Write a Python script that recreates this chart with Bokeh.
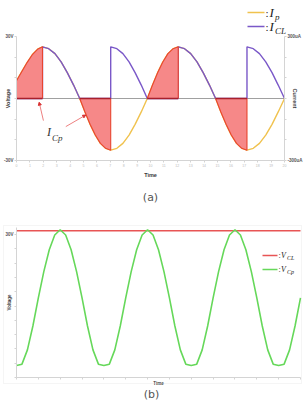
from bokeh.plotting import figure
from bokeh.models import (Range1d, LinearAxis, FixedTicker, Label, Arrow, NormalHead,
                          Span, BoxAnnotation)
from bokeh.layouts import column
from bokeh.embed import file_html
from bokeh.resources import INLINE

# ---------------- panel (a) data ----------------
ip_t = [0.00, 0.40, 0.80, 1.20, 1.60, 1.94,
        2.40, 2.87, 3.33, 3.79, 4.26, 4.72,
        5.11, 5.49, 5.88, 6.26, 6.65, 7.03,
        7.49, 7.94, 8.40, 8.85, 9.31, 9.76,
        10.15, 10.53, 10.92, 11.30, 11.69, 12.07,
        12.54, 13.00, 13.47, 13.93, 14.40, 14.86,
        15.25, 15.64, 16.03, 16.42, 16.81, 17.20,
        17.67, 18.13, 18.60, 19.07, 19.53, 20.00]
ip_v = [86, 131, 175, 214, 240, 250,
        241, 217, 177, 125, 65, 0,
        -65, -125, -177, -217, -241, -250,
        -241, -217, -177, -125, -65, 0,
        65, 125, 177, 217, 241, 250,
        241, 217, 177, 125, 65, 0,
        -65, -125, -177, -217, -241, -250,
        -241, -217, -177, -125, -65, 0]
# windows where the Cp current flows (|Ip| rising)
icp_windows = [(0.00, 1.94), (4.72, 7.03), (9.76, 12.07), (14.86, 17.20)]
time_ticks_a = list(range(0, 21))
volt_labeled_a = [-30, 30]
volt_minor_a = [-20, -10, 0, 10, 20]
cur_labeled_a = [-300, 300]
cur_minor_a = [-200, -100, 0, 100, 200]

# ---------------- panel (b) data ----------------
vcp_t = [0.00, 0.25, 0.50, 0.75, 1.00, 1.25, 1.50, 1.75, 2.00, 2.25, 2.50, 2.75, 3.00, 3.25, 3.50, 3.75,
         4.00, 4.25, 4.50, 4.75, 5.00, 5.25, 5.50, 5.75, 6.00, 6.25, 6.50, 6.75, 7.00, 7.25, 7.50, 7.75,
         8.00, 8.25, 8.50, 8.75, 9.00, 9.25, 9.50, 9.75, 10.00, 10.25, 10.50, 10.75, 11.00, 11.25, 11.50, 11.75,
         12.00, 12.25, 12.50, 12.75, 13.00]
vcp_v = [2.5, 2.8, 5.8, 10.8, 16.7, 22.2, 26.8, 29.9, 31.0, 29.9, 26.8, 22.2, 16.7, 10.8, 5.8, 2.8,
         2.5, 2.8, 5.8, 10.8, 16.7, 22.2, 26.8, 29.9, 31.0, 29.9, 26.8, 22.2, 16.7, 10.8, 5.8, 2.8,
         2.5, 2.8, 5.8, 10.8, 16.7, 22.2, 26.8, 29.9, 31.0, 29.9, 26.8, 22.2, 16.7, 10.8, 5.8, 2.8,
         2.5, 2.8, 5.8, 10.8, 16.7]
vcl_t = [0.0, 13.0]
vcl_v = [30.8, 30.8]
time_minor_b = list(range(0, 14))
volt_labeled_b = [30]
volt_minor_b = [0, 3, 6, 9, 12, 15, 18, 21, 24, 27]

YEL = "#f0c24e"
PUR = "#7a58c8"
RED_FILL = "#f58282"
RED_EDGE = "#e8452f"
RED_ZERO = "#a8202c"
VCL_C = "#e85555"
VCP_C = "#66d85a"
AX = "#d4d4d4"
TXT = "#3a3a3a"
SANS = "Liberation Sans"
SERIF = "Liberation Serif"


def style_axis(ax, label_size="5.5px", tick_size="4.5px"):
    ax.axis_line_color = AX
    ax.major_tick_line_color = AX
    ax.minor_tick_line_color = AX
    ax.major_tick_in = 0
    ax.major_tick_out = 2
    ax.minor_tick_in = 0
    ax.minor_tick_out = 2
    ax.axis_label_text_font = SANS
    ax.axis_label_text_font_style = "bold"
    ax.axis_label_text_font_size = label_size
    ax.axis_label_text_color = TXT
    ax.major_label_text_font = SANS
    ax.major_label_text_font_style = "bold"
    ax.major_label_text_font_size = tick_size
    ax.major_label_text_color = "#555555"
    ax.major_label_standoff = 1


def sl(p, H, X, Y, text, size, style="italic", font=SERIF, align="left", color="#222222"):
    p.add_layout(Label(x=X, y=H - Y, x_units="screen", y_units="screen", text=text,
                       text_font=font, text_font_style=style, text_font_size=size,
                       text_color=color, text_align=align, text_baseline="middle"))


def sline(p, H, X0, X1, Y, color):
    p.add_layout(Arrow(x_start=X0, y_start=H - Y, x_end=X1, y_end=H - Y,
                       start_units="screen", end_units="screen", end=None,
                       line_color=color, line_width=1.6))


# ================= figure (a): frame covers the whole canvas =================
HA = 222
pa = figure(width=303, height=HA, output_backend="svg", toolbar_location=None,
            x_range=Range1d(-16 / 13.4, 20 + 19 / 13.4),
            y_range=Range1d(-30 - 62 / 2.0667, 30 + 36 / 2.0667),
            min_border=0, frame_align=False)
pa.extra_y_ranges = {"cur": Range1d(-300 - 620 / 2.0667, 300 + 360 / 2.0667)}
pa.outline_line_color = None
pa.xgrid.grid_line_color = None
pa.ygrid.grid_line_color = None

xa = pa.xaxis[0]
xa.fixed_location = -30
xa.bounds = (0, 20)
xa.ticker = FixedTicker(ticks=time_ticks_a)
xa.axis_label = "Time"
style_axis(xa)
xa.major_label_text_font_size = "3.5px"
xa.major_label_text_font_style = "normal"
xa.major_label_text_color = "#bbbbbb"
xa.axis_label_standoff = 2

ya = pa.yaxis[0]
ya.fixed_location = 0
ya.bounds = (-30, 30)
ya.ticker = FixedTicker(ticks=volt_labeled_a, minor_ticks=volt_minor_a)
ya.major_label_overrides = {30: "30V", -30: "-30V"}
ya.axis_label = "Voltage"
style_axis(ya)
ya.axis_label_standoff = -10

rax = LinearAxis(y_range_name="cur", fixed_location=20, bounds=(-300, 300),
                 ticker=FixedTicker(ticks=cur_labeled_a, minor_ticks=cur_minor_a),
                 major_label_overrides={300: "300uA", -300: "-300uA"},
                 axis_label="Current")
style_axis(rax)
rax.axis_label_standoff = -14
pa.add_layout(rax, "right")

pa.segment(x0=[0], y0=[0], x1=[20], y1=[0], line_color="#a0a0a0", line_width=1.2)

pa.line(ip_t, ip_v, y_range_name="cur", line_color=YEL, line_width=1.4)

cl_t, cl_v = [], []
for k, (a, b) in enumerate(icp_windows):
    cl_t += [a, b]
    cl_v += [0, 0]
    nxt = icp_windows[k + 1][0] if k + 1 < len(icp_windows) else ip_t[-1]
    for t, v in zip(ip_t, ip_v):
        if b <= t <= nxt:
            cl_t.append(t)
            cl_v.append(abs(v))
pa.line(cl_t, cl_v, y_range_name="cur", line_color=PUR, line_width=1.4)

pxs, pys, exs, eys = [], [], [], []
for a, b in icp_windows:
    pts = [(t, v) for t, v in zip(ip_t, ip_v) if a <= t <= b]
    pxs.append([a] + [p[0] for p in pts] + [b])
    pys.append([0] + [p[1] for p in pts] + [0])
    exs.append([p[0] for p in pts] + [b])
    eys.append([p[1] for p in pts] + [0])
pa.patches(pxs, pys, y_range_name="cur", fill_color=RED_FILL, fill_alpha=0.95, line_color=None)
pa.multi_line(exs, eys, y_range_name="cur", line_color=RED_EDGE, line_width=1.1)
pa.segment(x0=[w[0] for w in icp_windows], y0=[0] * 4, x1=[w[1] for w in icp_windows], y1=[0] * 4,
           y_range_name="cur", line_color=RED_ZERO, line_width=1.5)

# I_Cp annotation
for (xs, ys, xe, ye) in [(2.01, -107, 1.69, -18), (3.68, -136, 5.17, -80)]:
    pa.add_layout(Arrow(x_start=xs, y_start=ys, x_end=xe, y_end=ye, y_range_name="cur",
                        line_color="#e86060", line_width=0.8,
                        end=NormalHead(size=3, fill_color="#d83030", line_color="#d83030")))
sl(pa, HA, 46.5, 131, "I", "12px", color="#333333")
sl(pa, HA, 51.5, 137, "Cp", "9px", color="#333333")

# legend (a)
sline(pa, HA, 247, 264, 12, YEL)
sline(pa, HA, 247, 264, 26, PUR)
sl(pa, HA, 265, 12, ":", "11px", style="normal")
sl(pa, HA, 269, 12, "I", "13px")
sl(pa, HA, 274.5, 16, "p", "9px")
sl(pa, HA, 265, 26, ":", "11px", style="normal")
sl(pa, HA, 269, 26, "I", "13px")
sl(pa, HA, 274.5, 30, "CL", "9px")
sl(pa, HA, 150, 197, "(a)", "11px", style="normal", font="DejaVu Sans", align="center",
   color="#555555")

# ================= figure (b): frame covers the whole canvas =================
HB = 185
Y0 = 222  # page y of the top of figure (b)
pb = figure(width=303, height=HB, output_backend="svg", toolbar_location=None,
            x_range=Range1d(-16 / 21.846, 13 + 3 / 21.846),
            y_range=Range1d(-30 / 4.767, 30 + 12 / 4.767),
            min_border=0, frame_align=False)
pb.outline_line_color = None
pb.xgrid.grid_line_color = None
pb.ygrid.grid_line_color = None

xb = pb.xaxis[0]
xb.fixed_location = 0
xb.bounds = (0, 13)
xb.ticker = FixedTicker(ticks=[], minor_ticks=time_minor_b)
xb.axis_label = "Time"
style_axis(xb, label_size="4.5px")
xb.axis_label_standoff = 1

yb = pb.yaxis[0]
yb.fixed_location = 0
yb.bounds = (0, 31.5)
yb.ticker = FixedTicker(ticks=volt_labeled_b, minor_ticks=volt_minor_b)
yb.major_label_overrides = {30: "30V"}
yb.axis_label = "Voltage"
style_axis(yb, label_size="4.5px")
yb.axis_label_standoff = -10

pb.add_layout(BoxAnnotation(left=3, right=301, top=HB - (225 - Y0), bottom=HB - (383 - Y0),
                            left_units="screen", right_units="screen", top_units="screen",
                            bottom_units="screen", fill_color=None, line_color="#dddddd",
                            line_width=1))

pb.line(vcl_t, vcl_v, line_color=VCL_C, line_width=1.5)
pb.line(vcp_t, vcp_v, line_color=VCP_C, line_width=1.6)

sline(pb, HB, 262, 277, 255 - Y0, VCL_C)
sline(pb, HB, 262, 277, 269 - Y0, VCP_C)
sl(pb, HB, 278, 255 - Y0, ":", "8px", style="normal")
sl(pb, HB, 280.5, 255 - Y0, "V", "8px")
sl(pb, HB, 286.5, 257 - Y0, "CL", "6px")
sl(pb, HB, 278, 269 - Y0, ":", "8px", style="normal")
sl(pb, HB, 280.5, 269 - Y0, "V", "8px")
sl(pb, HB, 286.5, 271 - Y0, "Cp", "6px")
sl(pb, HB, 151, 394 - Y0, "(b)", "11px", style="normal", font="DejaVu Sans", align="center",
   color="#555555")

layout = column(pa, pb, spacing=0)
open("out.html", "w").write(file_html(layout, INLINE))
